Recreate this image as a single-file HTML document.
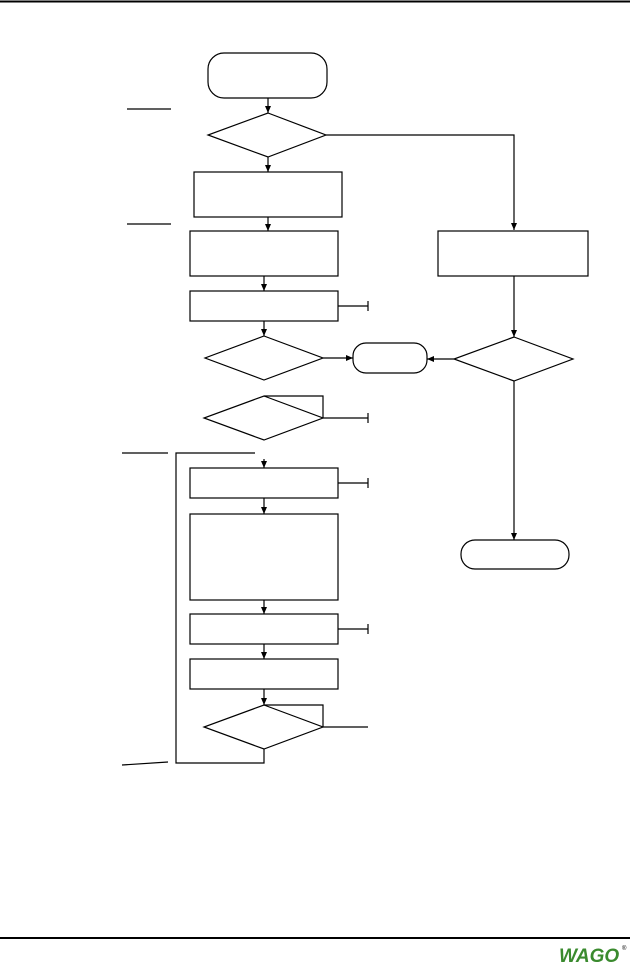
<!DOCTYPE html>
<html><head><style>
body{margin:0;background:#fff;width:630px;height:968px;overflow:hidden}
</style></head><body>
<svg width="630" height="968" xmlns="http://www.w3.org/2000/svg">
<defs><marker id="a" markerWidth="8" markerHeight="8" refX="7" refY="4" orient="auto" markerUnits="userSpaceOnUse"><path d="M0,1 L7,4 L0,7 z" fill="#000"/></marker></defs>
<g stroke="#000" stroke-width="1.2" fill="none">
<line x1="0" y1="1.5" x2="630" y2="1.5" stroke-width="2"/>
<line x1="0" y1="938" x2="630" y2="938" stroke-width="2"/>
<rect x="208" y="53" width="119" height="45" rx="16"/>
<line x1="127" y1="109" x2="171" y2="109"/>
<line x1="127" y1="224" x2="171" y2="224"/>
<line x1="268" y1="98" x2="268" y2="113" marker-end="url(#a)"/>
<polygon points="268,113 326,135 268,157 208,135"/>
<polyline points="326,135 514,135 514,230" marker-end="url(#a)"/>
<line x1="268" y1="157" x2="268" y2="172" marker-end="url(#a)"/>
<rect x="194" y="172" width="148" height="45"/>
<line x1="268" y1="217" x2="268" y2="231" marker-end="url(#a)"/>
<rect x="190" y="231" width="148" height="45"/>
<line x1="264" y1="276" x2="264" y2="291" marker-end="url(#a)"/>
<rect x="190" y="291" width="148" height="30"/>
<line x1="338" y1="306" x2="368" y2="306"/><line x1="368" y1="301" x2="368" y2="311"/>
<line x1="264" y1="321" x2="264" y2="336" marker-end="url(#a)"/>
<polygon points="264,336 323,358 264,380 205,358"/>
<line x1="323" y1="358" x2="353" y2="358" marker-end="url(#a)"/>
<rect x="353" y="343" width="74" height="30" rx="13"/>
<polygon points="264,396 323,418 264,440 204,418"/>
<polyline points="264,396 323,396 323,418"/>
<line x1="323" y1="418" x2="368" y2="418"/><line x1="368" y1="413" x2="368" y2="423"/>
<line x1="122" y1="453" x2="168" y2="453"/>
<polyline points="255,453 176,453 176,763 264,763 264,749"/>
<line x1="264" y1="459" x2="264" y2="468" marker-end="url(#a)"/>
<rect x="190" y="468" width="148" height="30"/>
<line x1="338" y1="483" x2="368" y2="483"/><line x1="368" y1="478" x2="368" y2="488"/>
<line x1="264" y1="498" x2="264" y2="514" marker-end="url(#a)"/>
<rect x="190" y="514" width="148" height="86"/>
<line x1="264" y1="600" x2="264" y2="614" marker-end="url(#a)"/>
<rect x="190" y="614" width="148" height="30"/>
<line x1="338" y1="629" x2="368" y2="629"/><line x1="368" y1="624" x2="368" y2="634"/>
<line x1="264" y1="644" x2="264" y2="659" marker-end="url(#a)"/>
<rect x="190" y="659" width="148" height="30"/>
<line x1="264" y1="689" x2="264" y2="705" marker-end="url(#a)"/>
<polygon points="264,705 323,727 264,749 204,727"/>
<polyline points="264,705 323,705 323,727"/>
<line x1="323" y1="727" x2="368" y2="727"/>
<line x1="122" y1="765" x2="168" y2="762"/>
<rect x="438" y="231" width="150" height="45"/>
<line x1="514" y1="276" x2="514" y2="337" marker-end="url(#a)"/>
<polygon points="514,337 573,359 514,381 454,359"/>
<line x1="454" y1="359" x2="427" y2="359" marker-end="url(#a)"/>
<line x1="514" y1="381" x2="514" y2="540" marker-end="url(#a)"/>
<rect x="461" y="540" width="108" height="29" rx="14"/>
</g>
<text x="559" y="962" font-family="Liberation Sans, sans-serif" font-weight="bold" font-style="italic" font-size="19" fill="#3a8a2e">WAGO</text>
<text x="622" y="950" font-family="Liberation Sans, sans-serif" font-size="6" fill="#000">®</text>
</svg>
</body></html>
